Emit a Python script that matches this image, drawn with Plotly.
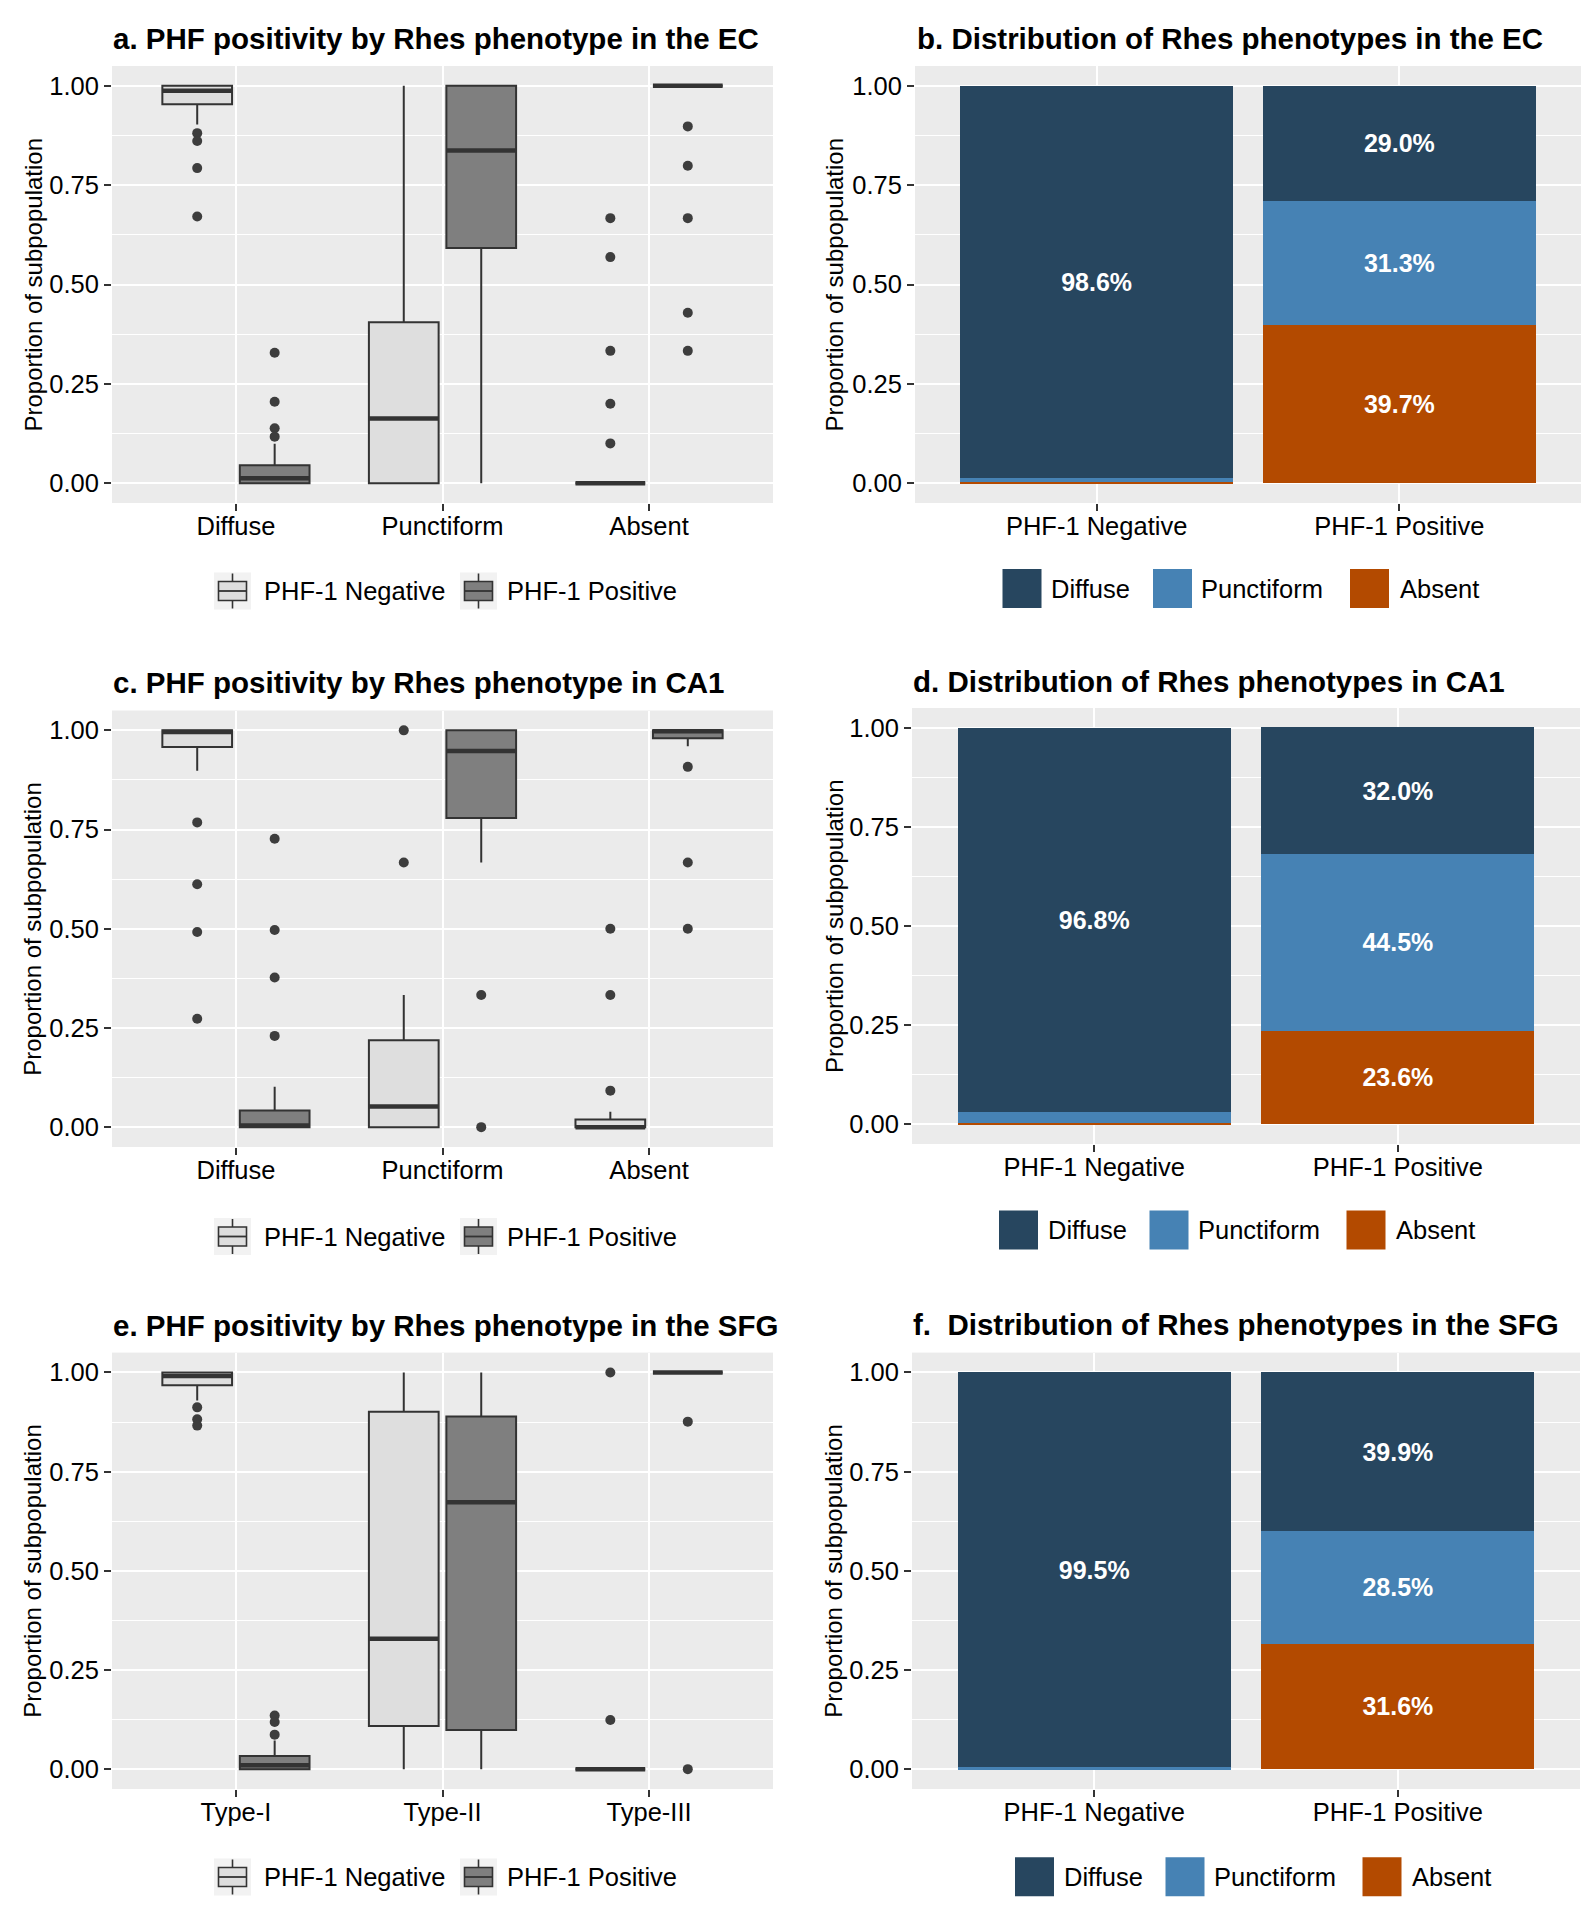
import plotly.graph_objects as go

W, H = 1593, 1920
PAGE_MARGIN = 8          # default body margin of the page holding the figure
FIG_W, FIG_H = W - PAGE_MARGIN, H - PAGE_MARGIN
FONT = "Arial, Liberation Sans, sans-serif"

# ---------------- data ----------------
ec_ca1_groups = ["Diffuse", "Punctiform", "Absent"]
sfg_groups = ["Type-I", "Type-II", "Type-III"]
phf_labels = ["PHF-1 Negative", "PHF-1 Positive"]
phenotypes = ["Diffuse", "Punctiform", "Absent"]
y_ticks = [0.0, 0.25, 0.5, 0.75, 1.0]

# panel a (EC) box statistics, per group [Diffuse, Punctiform, Absent]
ec_neg_q1 = [0.954, 0.0, 0.0]
ec_neg_med = [0.988, 0.163, 0.0]
ec_neg_q3 = [1.0, 0.405, 0.0]
ec_neg_lo = [0.903, 0.0, 0.0]
ec_neg_hi = [1.0, 1.0, 0.0]
ec_neg_out = [[0.881, 0.861, 0.793, 0.671], [], [0.667, 0.569, 0.333, 0.2, 0.1]]
ec_pos_q1 = [0.0, 0.592, 1.0]
ec_pos_med = [0.012, 0.837, 1.0]
ec_pos_q3 = [0.045, 1.0, 1.0]
ec_pos_lo = [0.0, 0.0, 1.0]
ec_pos_hi = [0.099, 1.0, 1.0]
ec_pos_out = [[0.328, 0.205, 0.138, 0.117], [], [0.898, 0.799, 0.667, 0.429, 0.333]]

# panel c (CA1)
ca1_neg_q1 = [0.958, 0.0, 0.0]
ca1_neg_med = [0.996, 0.052, 0.0]
ca1_neg_q3 = [1.0, 0.219, 0.019]
ca1_neg_lo = [0.898, 0.0, 0.0]
ca1_neg_hi = [1.0, 0.333, 0.039]
ca1_neg_out = [[0.768, 0.612, 0.492, 0.273], [1.0, 0.667], [0.5, 0.333, 0.092]]
ca1_pos_q1 = [0.0, 0.779, 0.980]
ca1_pos_med = [0.004, 0.948, 0.998]
ca1_pos_q3 = [0.042, 1.0, 1.0]
ca1_pos_lo = [0.0, 0.667, 0.960]
ca1_pos_hi = [0.102, 1.0, 1.0]
ca1_pos_out = [[0.727, 0.497, 0.377, 0.230], [0.333, 0.0], [0.908, 0.667, 0.5]]

# panel e (SFG)
sfg_neg_q1 = [0.968, 0.109, 0.0]
sfg_neg_med = [0.991, 0.329, 0.0]
sfg_neg_q3 = [1.0, 0.901, 0.0]
sfg_neg_lo = [0.929, 0.0, 0.0]
sfg_neg_hi = [1.0, 1.0, 0.0]
sfg_neg_out = [[0.912, 0.882, 0.866], [], [1.0, 0.124]]
sfg_pos_q1 = [0.0, 0.099, 1.0]
sfg_pos_med = [0.010, 0.673, 1.0]
sfg_pos_q3 = [0.033, 0.889, 1.0]
sfg_pos_lo = [0.0, 0.0, 1.0]
sfg_pos_hi = [0.072, 1.0, 1.0]
sfg_pos_out = [[0.135, 0.119, 0.087], [], [0.876, 0.0]]

# stacked bar proportions [PHF-1 Negative, PHF-1 Positive]
ec_diffuse = [0.986, 0.290]
ec_punctiform = [0.012, 0.313]
ec_absent = [0.002, 0.397]
ca1_diffuse = [0.968, 0.320]
ca1_punctiform = [0.029, 0.445]
ca1_absent = [0.003, 0.236]
sfg_diffuse = [0.995, 0.399]
sfg_punctiform = [0.004, 0.285]
sfg_absent = [0.001, 0.316]

# ---------------- styling ----------------
NEG_FILL = "#DEDEDE"
POS_FILL = "#7F7F7F"
EDGE = "#333333"
PHENO_COLORS = {"Diffuse": "#27465F", "Punctiform": "#4682B4", "Absent": "#B34A00"}
PANEL_BG = "#EBEBEB"
DODGE = 0.375
BOXW = 0.3375


def px2x(px):
    return (px - PAGE_MARGIN) / FIG_W


def py2y(py):
    return 1 - (py - PAGE_MARGIN) / FIG_H


fig = go.Figure()
annotations = []
shapes = []

# panel layout in page pixels: (x0, x1, y_top, y_bottom)
panel_px = {
    1: (112, 773, 66, 503),
    2: (915, 1581, 66, 503),
    3: (112, 773, 710.5, 1147),
    4: (912, 1580, 708, 1144),
    5: (112, 773, 1352.6, 1789),
    6: (912, 1580, 1352.6, 1789),
}


def axis_names(n):
    return ("x" if n == 1 else f"x{n}"), ("y" if n == 1 else f"y{n}")


def add_box_panel(n, groups, neg, pos):
    xa, ya = axis_names(n)
    for k, (name, st, fill) in enumerate([("PHF-1 Negative", neg, NEG_FILL),
                                          ("PHF-1 Positive", pos, POS_FILL)]):
        q1, med, q3, lo, hi, outs = st
        off = (k - 0.5) * DODGE
        xs = [i + off for i in range(len(groups))]
        fig.add_trace(go.Box(
            x=xs, q1=q1, median=med, q3=q3, lowerfence=lo, upperfence=hi,
            width=BOXW, fillcolor=fill, line=dict(color=EDGE, width=2),
            whiskerwidth=0, boxpoints=False, name=name, showlegend=False,
            xaxis=xa, yaxis=ya, hoverinfo="skip"))
        # thicker median line (ggplot fatten)
        mx, my = [], []
        for xc, m in zip(xs, med):
            mx += [xc - BOXW / 2, xc + BOXW / 2, None]
            my += [m, m, None]
        fig.add_trace(go.Scatter(x=mx, y=my, mode="lines",
                                 line=dict(color=EDGE, width=4.5),
                                 showlegend=False, xaxis=xa, yaxis=ya, hoverinfo="skip"))
        ox, oy = [], []
        for xc, vals in zip(xs, outs):
            for v in vals:
                ox.append(xc)
                oy.append(v)
        fig.add_trace(go.Scatter(x=ox, y=oy, mode="markers",
                                 marker=dict(color="#3D3D3D", size=10),
                                 showlegend=False, xaxis=xa, yaxis=ya, hoverinfo="skip"))


def add_bar_panel(n, diffuse, punct, absent):
    xa, ya = axis_names(n)
    for name, vals in [("Absent", absent), ("Punctiform", punct), ("Diffuse", diffuse)]:
        labels = [f"{v * 100:.1f}%" if v >= 0.05 else "" for v in vals]
        fig.add_trace(go.Bar(
            x=phf_labels, y=vals, name=name, marker=dict(color=PHENO_COLORS[name], line=dict(width=0)),
            text=labels, textposition="inside", insidetextanchor="middle",
            textangle=0, constraintext="none",
            textfont=dict(family=FONT, size=25, color="white", weight="bold"),
            showlegend=False, xaxis=xa, yaxis=ya, hoverinfo="skip"))


add_box_panel(1, ec_ca1_groups,
              (ec_neg_q1, ec_neg_med, ec_neg_q3, ec_neg_lo, ec_neg_hi, ec_neg_out),
              (ec_pos_q1, ec_pos_med, ec_pos_q3, ec_pos_lo, ec_pos_hi, ec_pos_out))
add_bar_panel(2, ec_diffuse, ec_punctiform, ec_absent)
add_box_panel(3, ec_ca1_groups,
              (ca1_neg_q1, ca1_neg_med, ca1_neg_q3, ca1_neg_lo, ca1_neg_hi, ca1_neg_out),
              (ca1_pos_q1, ca1_pos_med, ca1_pos_q3, ca1_pos_lo, ca1_pos_hi, ca1_pos_out))
add_bar_panel(4, ca1_diffuse, ca1_punctiform, ca1_absent)
add_box_panel(5, sfg_groups,
              (sfg_neg_q1, sfg_neg_med, sfg_neg_q3, sfg_neg_lo, sfg_neg_hi, sfg_neg_out),
              (sfg_pos_q1, sfg_pos_med, sfg_pos_q3, sfg_pos_lo, sfg_pos_hi, sfg_pos_out))
add_bar_panel(6, sfg_diffuse, sfg_punctiform, sfg_absent)

tickfont = dict(family=FONT, size=25.5, color="black")
layout_axes = {}
for n, (x0, x1, yt, yb) in panel_px.items():
    xk = "xaxis" if n == 1 else f"xaxis{n}"
    yk = "yaxis" if n == 1 else f"yaxis{n}"
    xa, ya = axis_names(n)
    is_box = n in (1, 3, 5)
    xcfg = dict(domain=[px2x(x0), px2x(x1)], anchor=ya,
                showgrid=True, gridcolor="white", gridwidth=2.2,
                zeroline=False, showline=False,
                ticks="outside", ticklen=7, tickwidth=2, tickcolor=EDGE,
                ticklabelstandoff=-7,
                tickfont=tickfont, fixedrange=True)
    if is_box:
        groups = sfg_groups if n == 5 else ec_ca1_groups
        xcfg.update(range=[-0.6, len(groups) - 0.4], tickmode="array",
                    tickvals=list(range(len(groups))), ticktext=groups)
    else:
        xcfg.update(type="category", categoryorder="array", categoryarray=phf_labels,
                    range=[-0.6, len(phf_labels) - 0.4])
    ycfg = dict(domain=[py2y(yb), py2y(yt)], anchor=xa, range=[-0.05, 1.05],
                tickmode="array", tickvals=y_ticks, ticktext=[f"{v:.2f}" for v in y_ticks],
                showgrid=True, gridcolor="white", gridwidth=2.2,
                minor=dict(dtick=0.125, tick0=0, showgrid=True, gridcolor="white", gridwidth=1.1),
                zeroline=False, showline=False,
                ticks="outside", ticklen=7, tickwidth=2, tickcolor=EDGE,
                tickfont=tickfont, fixedrange=True)
    layout_axes[xk] = xcfg
    layout_axes[yk] = ycfg

# ---------------- titles ----------------
titles = [
    ("a. PHF positivity by Rhes phenotype in the EC", 113, 38.5),
    ("b. Distribution of Rhes phenotypes in the EC", 917, 38.5),
    ("c. PHF positivity by Rhes phenotype in CA1", 113, 682.5),
    ("d. Distribution of Rhes phenotypes in CA1", 913, 681),
    ("e. PHF positivity by Rhes phenotype in the SFG", 113, 1325),
    ("f.\u00a0 Distribution of Rhes phenotypes in the SFG", 913, 1324.5),
]
for txt, x, y in titles:
    annotations.append(dict(text=txt, x=px2x(x - 2), y=py2y(y), xref="paper", yref="paper",
                            xanchor="left", yanchor="middle", showarrow=False,
                            font=dict(family=FONT, size=29.5, color="black", weight="bold")))

# y axis titles
for n, (x0, x1, yt, yb) in panel_px.items():
    xc = 33 if n in (1, 3, 5) else 834
    annotations.append(dict(text="Proportion of subpopulation", x=px2x(xc), y=py2y((yt + yb) / 2),
                            xref="paper", yref="paper", xanchor="center", yanchor="middle",
                            textangle=-90, showarrow=False,
                            font=dict(family=FONT, size=24, color="black")))

# ---------------- legends (drawn as keys) ----------------
legfont = dict(family=FONT, size=25.5, color="black")


def box_legend(x0, yc):
    key = 37
    key_off = [0, 246]
    text_off = [48, 291]
    for k, (name, fill) in enumerate([("PHF-1 Negative", NEG_FILL), ("PHF-1 Positive", POS_FILL)]):
        kx = x0 + key_off[k]
        ky0, ky1 = yc - key / 2, yc + key / 2
        shapes.append(dict(type="rect", xref="paper", yref="paper",
                           x0=px2x(kx), x1=px2x(kx + key), y0=py2y(ky1), y1=py2y(ky0),
                           fillcolor="#F2F2F2", line=dict(width=0)))
        cx = kx + key / 2
        shapes.append(dict(type="line", xref="paper", yref="paper",
                           x0=px2x(cx), x1=px2x(cx), y0=py2y(ky1 - 1), y1=py2y(ky0 + 1),
                           line=dict(color=EDGE, width=1.6)))
        shapes.append(dict(type="rect", xref="paper", yref="paper",
                           x0=px2x(kx + 4.5), x1=px2x(kx + key - 4.5),
                           y0=py2y(yc + 9.5), y1=py2y(yc - 9.5),
                           fillcolor=fill, line=dict(color=EDGE, width=1.6)))
        shapes.append(dict(type="line", xref="paper", yref="paper",
                           x0=px2x(kx + 4.5), x1=px2x(kx + key - 4.5), y0=py2y(yc), y1=py2y(yc),
                           line=dict(color=EDGE, width=1.8)))
        annotations.append(dict(text=name, x=px2x(x0 + text_off[k]), y=py2y(yc),
                                xref="paper", yref="paper", xanchor="left", yanchor="middle",
                                showarrow=False, font=legfont))


def bar_legend(x0, yc):
    key = 39
    key_off = [0, 150.5, 347.5]
    text_off = [46.5, 196.5, 395]
    for k, name in enumerate(phenotypes):
        kx = x0 + key_off[k]
        shapes.append(dict(type="rect", xref="paper", yref="paper",
                           x0=px2x(kx), x1=px2x(kx + key), y0=py2y(yc + key / 2), y1=py2y(yc - key / 2),
                           fillcolor=PHENO_COLORS[name], line=dict(width=0)))
        annotations.append(dict(text=name, x=px2x(x0 + text_off[k]), y=py2y(yc),
                                xref="paper", yref="paper", xanchor="left", yanchor="middle",
                                showarrow=False, font=legfont))


box_legend(214, 591)
box_legend(214, 1236.5)
box_legend(214, 1877)
bar_legend(1002.5, 588.6)
bar_legend(999, 1230)
bar_legend(1015, 1876.8)

fig.update_layout(
    width=FIG_W, height=FIG_H, autosize=False,
    margin=dict(l=0, r=0, t=0, b=0),
    paper_bgcolor="white", plot_bgcolor=PANEL_BG,
    barmode="stack", bargap=0.1,
    showlegend=False,
    annotations=annotations, shapes=shapes,
    font=dict(family=FONT, color="black"),
    **layout_axes,
)

fig.write_html("out.html")
